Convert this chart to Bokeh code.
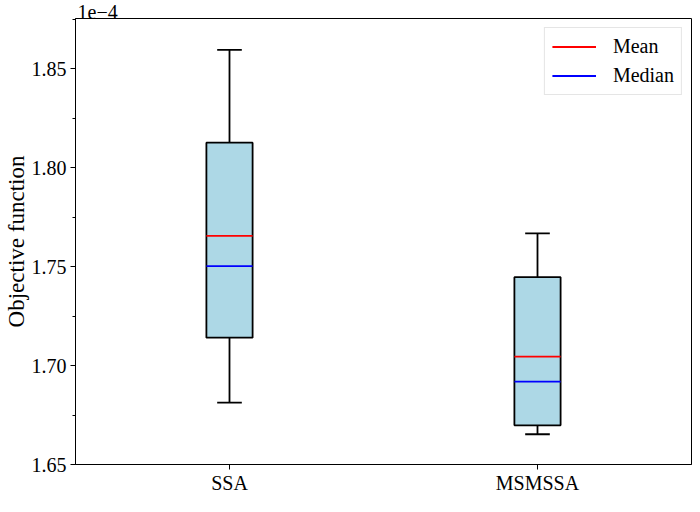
from bokeh.plotting import figure
from bokeh.models import FixedTicker, Range1d, PrintfTickFormatter
from bokeh.embed import file_html
from bokeh.resources import INLINE

# Data (values in units of 1e-4)
categories = ["SSA", "MSMSSA"]
whisker_low = [1.6813, 1.6653]
q1 = [1.7141, 1.6698]
median = [1.7503, 1.6919]
mean = [1.7656, 1.7045]
q3 = [1.8127, 1.7447]
whisker_high = [1.8596, 1.7669]
y_ticks = [1.65, 1.70, 1.75, 1.80, 1.85]
offset_text = "1e\u22124"

FONT = "Liberation Serif"
pos = [i + 1 for i in range(len(categories))]
half_box = 0.075
half_cap = 0.04
y_lo, y_hi = 1.65, 1.8755
LW = 1.8

p = figure(width=692, height=496, output_backend="svg", toolbar_location=None,
           x_range=Range1d(0.5, 2.5), y_range=Range1d(y_lo, y_hi),
           min_border_left=74, min_border_right=1, min_border_top=18, min_border_bottom=0,
           title=offset_text)

p.title.text_font = FONT
p.title.text_font_size = "20px"
p.title.text_font_style = "normal"
p.title.text_color = "black"
p.title.align = "left"
p.title.standoff = 0
p.title.offset = 2

p.xgrid.visible = False
p.ygrid.visible = False
p.outline_line_color = "black"
p.outline_line_width = 1
p.background_fill_color = "white"
p.border_fill_color = "white"

# whiskers
p.segment(x0=pos, x1=pos, y0=q3, y1=whisker_high, line_color="black", line_width=LW)
p.segment(x0=pos, x1=pos, y0=whisker_low, y1=q1, line_color="black", line_width=LW)
p.segment(x0=[x - half_cap for x in pos], x1=[x + half_cap for x in pos],
          y0=whisker_high, y1=whisker_high, line_color="black", line_width=LW)
p.segment(x0=[x - half_cap for x in pos], x1=[x + half_cap for x in pos],
          y0=whisker_low, y1=whisker_low, line_color="black", line_width=LW)
# boxes
p.quad(left=[x - half_box for x in pos], right=[x + half_box for x in pos],
       bottom=q1, top=q3, fill_color="#add8e6", line_color="black", line_width=LW)
# mean / median
p.segment(x0=[x - half_box for x in pos], x1=[x + half_box for x in pos],
          y0=mean, y1=mean, line_color="red", line_width=LW, legend_label="Mean")
p.segment(x0=[x - half_box for x in pos], x1=[x + half_box for x in pos],
          y0=median, y1=median, line_color="blue", line_width=LW, legend_label="Median")

# axes
p.xaxis.ticker = FixedTicker(ticks=pos)
p.xaxis.major_label_overrides = {x: c for x, c in zip(pos, categories)}
minor = [round(a + 0.025, 3) for a in y_ticks]
p.yaxis.ticker = FixedTicker(ticks=y_ticks, minor_ticks=minor)
p.yaxis.formatter = PrintfTickFormatter(format="%.2f")
p.yaxis.axis_label = "Objective function"
for ax in (p.xaxis, p.yaxis):
    ax.axis_line_color = "black"
    ax.major_tick_line_color = "black"
    ax.minor_tick_line_color = "black"
    ax.major_tick_out = 5
    ax.major_tick_in = 0
    ax.minor_tick_out = 3
    ax.minor_tick_in = 0
    ax.major_label_text_font = FONT
    ax.major_label_text_font_size = "20px"
    ax.major_label_text_color = "black"
    ax.axis_label_text_font = FONT
    ax.axis_label_text_font_size = "23px"
    ax.axis_label_text_font_style = "normal"
    ax.axis_label_text_color = "black"
p.xaxis.major_label_standoff = 2
p.xaxis.minor_tick_line_color = None
p.yaxis.major_label_standoff = 4
p.yaxis.axis_label_standoff = 0

lg = p.legend[0]
lg.location = "top_right"
lg.margin = 9
lg.padding = 7
lg.spacing = 6
lg.glyph_width = 44
lg.glyph_height = 23
lg.label_height = 23
lg.label_standoff = 17
lg.label_text_font = FONT
lg.label_text_font_size = "20px"
lg.label_text_color = "black"
lg.border_line_color = "#cccccc"
lg.border_line_width = 1
lg.background_fill_alpha = 0.8

open("out.html", "w").write(file_html(p, INLINE))
